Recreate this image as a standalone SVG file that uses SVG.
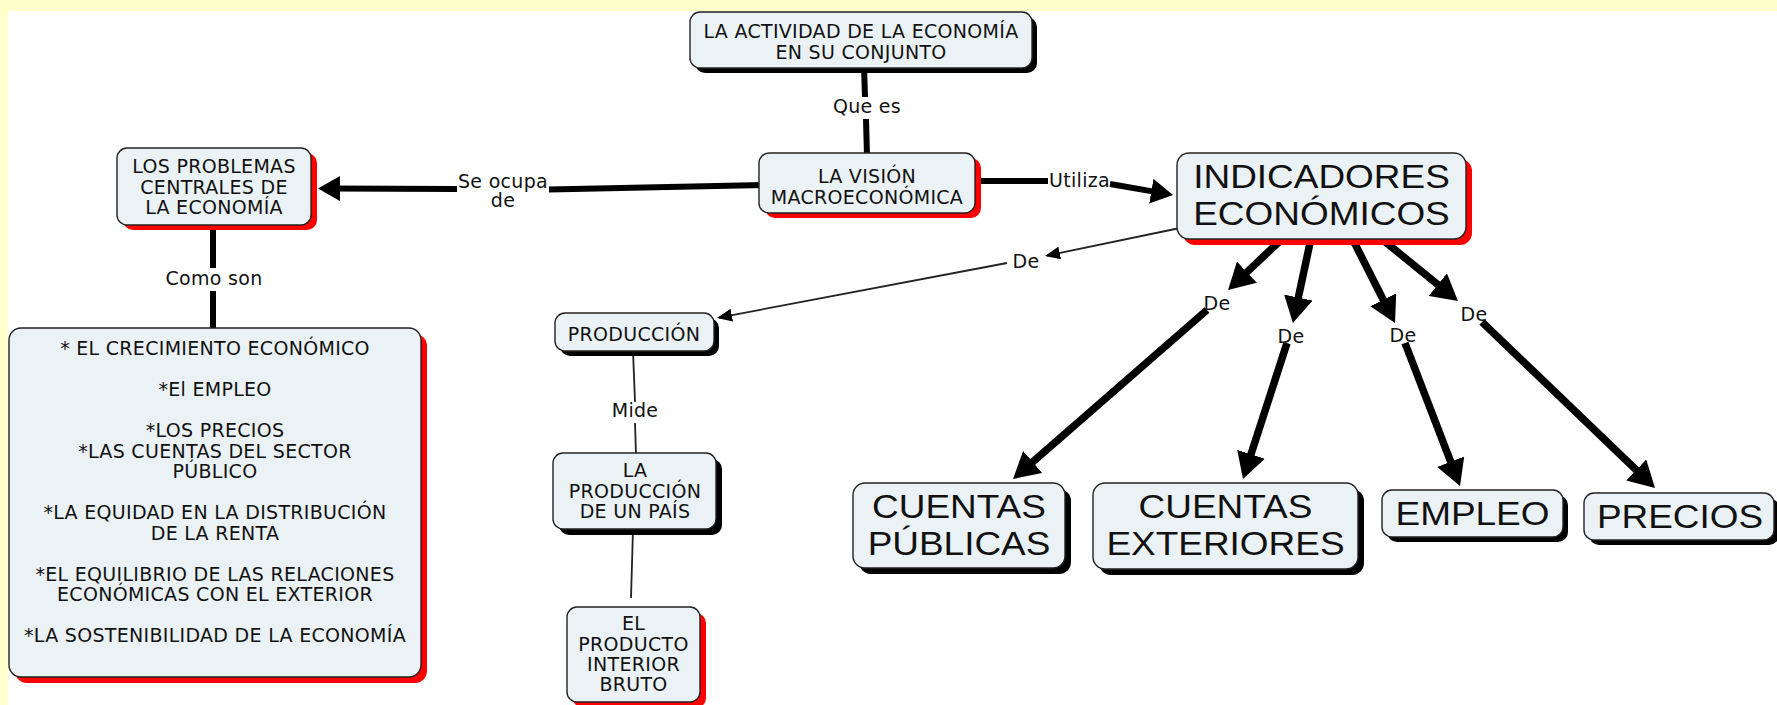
<svg xmlns="http://www.w3.org/2000/svg" width="1777" height="705" viewBox="0 0 1777 705">
<style>
.box{fill:#ebf2f5;stroke:#222;stroke-width:1.4}
.sr{fill:#ff0000}
.sb{fill:#000}
.t{font-family:"DejaVu Sans",Verdana,sans-serif;font-size:19px;letter-spacing:0.3px;fill:#111;text-anchor:middle}
.T{font-family:"Liberation Sans",Arial,sans-serif;font-size:33px;fill:#111;text-anchor:middle}
.thick{stroke:#000;stroke-width:6;fill:none}
.thickL{stroke:#000;stroke-width:7.5;fill:none}
.thin{stroke:#222;stroke-width:1.8;fill:none}
</style>
<defs>
<marker id="ahL" markerUnits="userSpaceOnUse" viewBox="0 0 26 29" refX="12" refY="14.5" markerWidth="26" markerHeight="29" orient="auto"><path d="M0,0 L26,14.5 L0,29 Z" fill="#000"/></marker>
<marker id="ahM" markerUnits="userSpaceOnUse" viewBox="0 0 22 25" refX="10" refY="12.5" markerWidth="22" markerHeight="25" orient="auto"><path d="M0,0 L22,12.5 L0,25 Z" fill="#000"/></marker>
<marker id="ahS" markerUnits="userSpaceOnUse" viewBox="0 0 15 13" refX="13" refY="6.5" markerWidth="15" markerHeight="13" orient="auto"><path d="M0,0 L15,6.5 L0,13 Z" fill="#000"/></marker>
</defs>
<rect x="0" y="0" width="1777" height="705" fill="#ffffff"/>
<rect x="0" y="0" width="1777" height="11" fill="#ffffcc"/>
<rect x="0" y="0" width="8" height="705" fill="#ffffcc"/>

<g id="connectors">
  <!-- Que es -->
  <path class="thick" d="M864,66 L865,97"/>
  <path class="thick" d="M866,119 L867,156"/>
  <text class="t" x="867" y="113">Que es</text>
  <!-- Se ocupa de -->
  <path class="thick" d="M765,185 L549,189.5"/>
  <path class="thick" d="M457,189 L330,188.5" marker-end="url(#ahM)"/>
  <text class="t" x="503" y="188">Se ocupa</text>
  <text class="t" x="503" y="207">de</text>
  <!-- Utiliza -->
  <path class="thick" d="M970,181 L1048,181"/>
  <path class="thick" d="M1110,184 L1161.2,192.9" marker-end="url(#ahM)"/>
  <text class="t" x="1079.5" y="187">Utiliza</text>
  <!-- Como son -->
  <path class="thick" d="M213,222 L213,268"/>
  <path class="thick" d="M213,291 L213,332"/>
  <text class="t" x="214" y="285">Como son</text>
  <!-- De (thin) to PRODUCCION -->
  <path class="thin" d="M1180,228 L1047,255.6" marker-end="url(#ahS)"/>
  <path class="thin" d="M1007,263 L719,317.6" marker-end="url(#ahS)"/>
  <text class="t" x="1026" y="268">De</text>
  <!-- Mide -->
  <path class="thin" d="M633,351 L635,402"/>
  <path class="thin" d="M635,423 L636,455"/>
  <text class="t" x="635" y="417">Mide</text>
  <!-- LA PRODUCCION -> PIB -->
  <path class="thin" d="M633,529 L631,598"/>
  <!-- De -> CUENTAS PUBLICAS -->
  <path class="thickL" d="M1283,238 L1238.2,280.4" marker-end="url(#ahL)"/>
  <path class="thickL" d="M1207,310 L1023.6,469.8" marker-end="url(#ahL)"/>
  <text class="t" x="1217" y="309.5">De</text>
  <!-- De -> CUENTAS EXTERIORES -->
  <path class="thickL" d="M1311.5,236 L1295.8,309.3" marker-end="url(#ahL)"/>
  <path class="thickL" d="M1287,343 L1247.3,465.7" marker-end="url(#ahL)"/>
  <text class="t" x="1291" y="343">De</text>
  <!-- De -> EMPLEO -->
  <path class="thickL" d="M1351,236 L1388.7,310.5" marker-end="url(#ahL)"/>
  <path class="thickL" d="M1405,343 L1455,472.9" marker-end="url(#ahL)"/>
  <text class="t" x="1403" y="342">De</text>
  <!-- De -> PRECIOS -->
  <path class="thickL" d="M1378,236 L1447.1,292.2" marker-end="url(#ahL)"/>
  <path class="thickL" d="M1482,322 L1644.9,478.3" marker-end="url(#ahL)"/>
  <text class="t" x="1474" y="320.5">De</text>
</g>

<g id="n-actividad">
  <rect class="sb" x="695" y="17" width="342" height="56" rx="10"/>
  <rect class="box" x="690" y="12" width="342" height="56" rx="10"/>
  <text class="t" x="861" y="38">LA ACTIVIDAD DE LA ECONOMÍA</text>
  <text class="t" x="861" y="58.5">EN SU CONJUNTO</text>
</g>

<g id="n-vision">
  <rect class="sr" x="765" y="158" width="216" height="60" rx="10"/>
  <rect class="box" x="759" y="153" width="216" height="60" rx="10"/>
  <text class="t" x="867" y="183">LA VISIÓN</text>
  <text class="t" x="867" y="203.5">MACROECONÓMICA</text>
</g>

<g id="n-problemas">
  <rect class="sr" x="123" y="153" width="194" height="77" rx="10"/>
  <rect class="box" x="117" y="148" width="194" height="77" rx="10"/>
  <text class="t" x="214" y="173">LOS PROBLEMAS</text>
  <text class="t" x="214" y="193.5">CENTRALES DE</text>
  <text class="t" x="214" y="214">LA ECONOMÍA</text>
</g>

<g id="n-indicadores">
  <rect class="sr" x="1183" y="159" width="289" height="86" rx="12"/>
  <rect class="box" x="1177" y="153" width="289" height="86" rx="12"/>
  <g transform="translate(1321.5,0) scale(1.12,1)">
    <text class="T" x="0" y="188.5">INDICADORES</text>
    <text class="T" x="0" y="225">ECONÓMICOS</text>
  </g>
</g>

<g id="n-lista">
  <rect class="sr" x="15" y="334" width="412" height="349" rx="12"/>
  <rect class="box" x="9" y="328" width="412" height="349" rx="12"/>
  <text class="t" x="215" y="355">* EL CRECIMIENTO ECONÓMICO</text>
  <text class="t" x="215" y="396">*El EMPLEO</text>
  <text class="t" x="215" y="437">*LOS PRECIOS</text>
  <text class="t" x="215" y="457.5">*LAS CUENTAS DEL SECTOR</text>
  <text class="t" x="215" y="478">PÚBLICO</text>
  <text class="t" x="215" y="519">*LA EQUIDAD EN LA DISTRIBUCIÓN</text>
  <text class="t" x="215" y="539.5">DE LA RENTA</text>
  <text class="t" x="215" y="580.5">*EL EQUILIBRIO DE LAS RELACIONES</text>
  <text class="t" x="215" y="601">ECONÓMICAS CON EL EXTERIOR</text>
  <text class="t" x="215" y="642">*LA SOSTENIBILIDAD DE LA ECONOMÍA</text>
</g>

<g id="n-produccion">
  <rect class="sb" x="560" y="318" width="159" height="38" rx="10"/>
  <rect class="box" x="555" y="313" width="159" height="38" rx="10"/>
  <text class="t" x="634" y="341">PRODUCCIÓN</text>
</g>

<g id="n-produccion-pais">
  <rect class="sb" x="559" y="459" width="163" height="76" rx="10"/>
  <rect class="box" x="553" y="453" width="163" height="76" rx="10"/>
  <text class="t" x="635" y="477">LA</text>
  <text class="t" x="635" y="497.5">PRODUCCIÓN</text>
  <text class="t" x="635" y="518">DE UN PAÍS</text>
</g>

<g id="n-pib">
  <rect class="sr" x="573" y="613" width="133" height="95" rx="10"/>
  <rect class="box" x="567" y="607" width="133" height="95" rx="10"/>
  <text class="t" x="633.5" y="630">EL</text>
  <text class="t" x="633.5" y="651">PRODUCTO</text>
  <text class="t" x="633.5" y="671">INTERIOR</text>
  <text class="t" x="633.5" y="691">BRUTO</text>
</g>

<g id="n-cuentas-publicas">
  <rect class="sb" x="859" y="489" width="212" height="85" rx="12"/>
  <rect class="box" x="853" y="483" width="212" height="85" rx="12"/>
  <g transform="translate(959,0) scale(1.12,1)">
    <text class="T" x="0" y="518.5">CUENTAS</text>
    <text class="T" x="0" y="555">PÚBLICAS</text>
  </g>
</g>

<g id="n-cuentas-exteriores">
  <rect class="sb" x="1099" y="489" width="265" height="86" rx="12"/>
  <rect class="box" x="1093" y="483" width="265" height="86" rx="12"/>
  <g transform="translate(1225.5,0) scale(1.12,1)">
    <text class="T" x="0" y="518.5">CUENTAS</text>
    <text class="T" x="0" y="555">EXTERIORES</text>
  </g>
</g>

<g id="n-empleo">
  <rect class="sb" x="1387" y="495" width="181" height="47" rx="10"/>
  <rect class="box" x="1382" y="490" width="181" height="47" rx="10"/>
  <g transform="translate(1472.5,0) scale(1.12,1)">
    <text class="T" x="0" y="525">EMPLEO</text>
  </g>
</g>

<g id="n-precios">
  <rect class="sb" x="1589" y="498" width="190" height="47" rx="10"/>
  <rect class="box" x="1584" y="493" width="190" height="47" rx="10"/>
  <g transform="translate(1680,0) scale(1.12,1)">
    <text class="T" x="0" y="528">PRECIOS</text>
  </g>
</g>
</svg>
